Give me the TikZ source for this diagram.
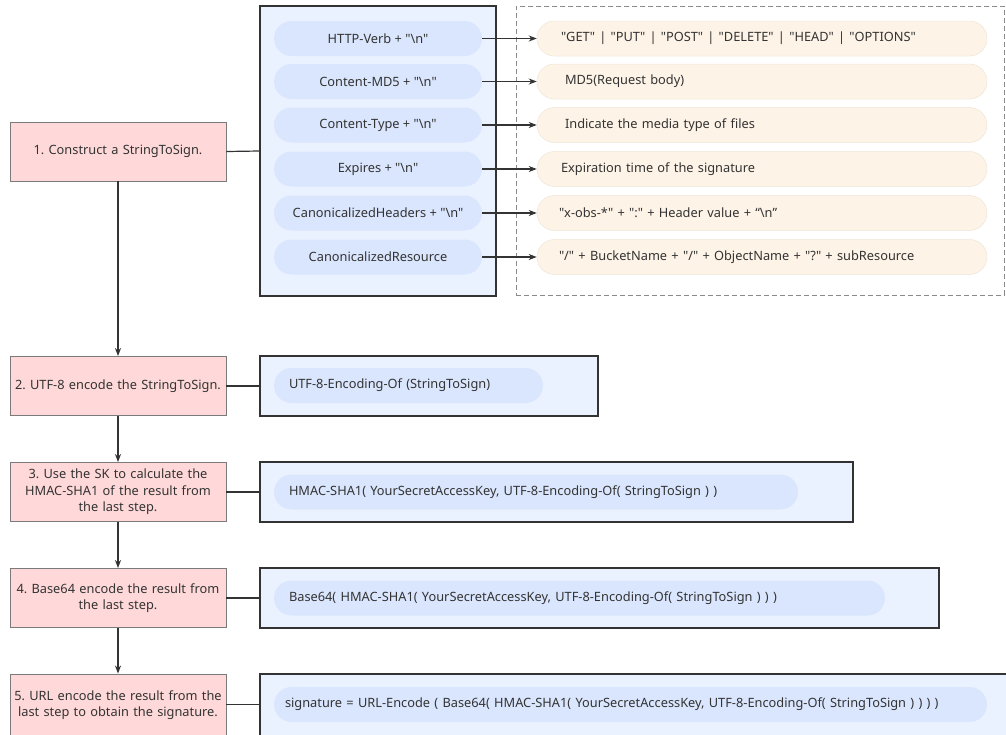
\documentclass[tikz,border=0pt]{standalone}
\usepackage{fontspec}
\newfontfamily\mainf{Noto Sans}
\usetikzlibrary{arrows.meta}
\definecolor{txt}{HTML}{333333}
\definecolor{pinkfill}{HTML}{FFD9D9}
\definecolor{pinkdraw}{HTML}{7A7A7A}
\definecolor{bluefill}{HTML}{EBF2FF}
\definecolor{pillblue}{HTML}{DAE6FD}
\definecolor{orangefill}{HTML}{FDF3E7}
\definecolor{orangedraw}{HTML}{EFE5D8}
\definecolor{dashgray}{HTML}{8A8A8A}
\tikzset{
  stepbox/.style={draw=pinkdraw, line width=0.9pt, fill=pinkfill, minimum width=216pt, minimum height=59pt, text width=214pt, align=center, inner sep=0pt},
  bluebox/.style={draw=txt, line width=1.4pt, fill=bluefill, inner sep=0pt},
  pill/.style={fill=pillblue, rounded corners=17.5pt, minimum height=35pt, inner sep=0pt},
  cpill/.style={pill, minimum width=208pt, align=center},
  opill/.style={fill=orangefill, draw=orangedraw, line width=0.5pt, rounded corners=17.5pt, minimum height=35pt, text width=406pt, inner xsep=22pt, inner ysep=0pt, align=left, minimum width=450pt},
  lpill/.style={pill, align=left},
  conn/.style={draw=txt, line width=1.2pt},
  arr/.style={conn, -{Stealth[length=8pt,width=6pt,inset=2.5pt]}},
}
\begin{document}
\frenchspacing
\begin{tikzpicture}[x=1pt,y=-1pt, font=\mainf\fontsize{12.8}{16.5}\selectfont\frenchspacing, text=txt]
\useasboundingbox (0,0) rectangle (1006,734);
\clip (0,0) rectangle (1006,734);

% step boxes
\node[stepbox] (s1) at (118,151.5) {1. Construct a StringToSign.};
\node[stepbox] (s2) at (118,386) {2. UTF-8 encode the StringToSign.};
\node[stepbox] (s3) at (118,492) {3. Use the SK to calculate the\\HMAC-SHA1 of the result from\\the last step.};
\node[stepbox] (s4) at (118,598) {4. Base64 encode the result from\\the last step.};
\node[stepbox, minimum height=62pt] (s5) at (118,705) {5. URL encode the result from the\\last step to obtain the signature.};

% outer boxes
\node[bluebox, minimum width=236pt, minimum height=290pt] (b1) at (378,151) {};
\node[bluebox, minimum width=338pt, minimum height=60pt] (b2) at (429,386) {};
\node[bluebox, minimum width=593pt, minimum height=60pt] (b3) at (556.5,492) {};
\node[bluebox, minimum width=679pt, minimum height=60pt] (b4) at (599.5,598) {};
\node[bluebox, minimum width=750pt, minimum height=66pt] (b5) at (635,707) {};

% dashed box
\node[draw=dashgray, line width=0.8pt, dash pattern=on 5pt off 3pt, minimum width=488pt, minimum height=289pt, inner sep=0pt] (dbox) at (760,150.5) {};

% pills in box 1
\node[cpill] (p1) at (378,38.5) {HTTP-Verb + "\textbackslash n"};
\node[cpill] (p2) at (378,81.5) {Content-MD5 + "\textbackslash n"};
\node[cpill] (p3) at (378,125) {Content-Type + "\textbackslash n"};
\node[cpill] (p4) at (378,169) {Expires + "\textbackslash n"};
\node[cpill] (p5) at (378,213) {CanonicalizedHeaders + "\textbackslash n"};
\node[cpill] (p6) at (378,257) {CanonicalizedResource};

% orange pills
\node[opill] (o1) at (762,38.5) {\hspace*{2pt}"GET" | "PUT" | "POST" | "DELETE" | "HEAD" | "OPTIONS"};
\node[opill] (o2) at (762,81.5) {\hspace*{6pt}MD5(Request body)};
\node[opill] (o3) at (762,125) {\hspace*{6pt}Indicate the media type of files};
\node[opill] (o4) at (762,169) {\hspace*{2pt}Expiration time of the signature};
\node[opill] (o5) at (762,213) {"x-obs-*" + ":" + Header value + “\textbackslash n”};
\node[opill] (o6) at (762,257) {"/" + BucketName + "/" + ObjectName + "?" + subResource};

% pills in boxes 2-5
\node[lpill, minimum width=269pt, text width=239pt, inner xsep=15pt] (q2) at (408.5,385.5) {UTF-8-Encoding-Of (StringToSign)};
\node[lpill, minimum width=524pt, text width=494pt, inner xsep=15pt] (q3) at (536,492) {HMAC-SHA1( YourSecretAccessKey, UTF-8-Encoding-Of( StringToSign ) )};
\node[lpill, minimum width=611pt, text width=581pt, inner xsep=15pt] (q4) at (579.5,598) {Base64( HMAC-SHA1( YourSecretAccessKey, UTF-8-Encoding-Of( StringToSign ) ) )};
\node[lpill, minimum width=713pt, text width=691pt, inner xsep=11pt] (q5) at (630.5,704.5) {signature = URL-Encode ( Base64( HMAC-SHA1( YourSecretAccessKey, UTF-8-Encoding-Of( StringToSign ) ) ) )};

% connectors
\draw[conn] (s1.east) -- (b1.west);
\draw[conn] (s2.east) -- (b2.west);
\draw[conn] (s3.east) -- (b3.west);
\draw[conn] (s4.east) -- (b4.west);
\draw[draw=txt, line width=0.6pt] (s5.east |- q5.west) -- (b5.west |- q5.west);

\draw[arr] (s1.south) -- (s2.north);
\draw[arr] (s2.south) -- (s3.north);
\draw[arr] (s3.south) -- (s4.north);
\draw[arr] (s4.south) -- (s5.north);

\foreach \i in {1,...,6} {
  \draw[arr] (p\i.east) -- (o\i.west);
}
\end{tikzpicture}
\end{document}
